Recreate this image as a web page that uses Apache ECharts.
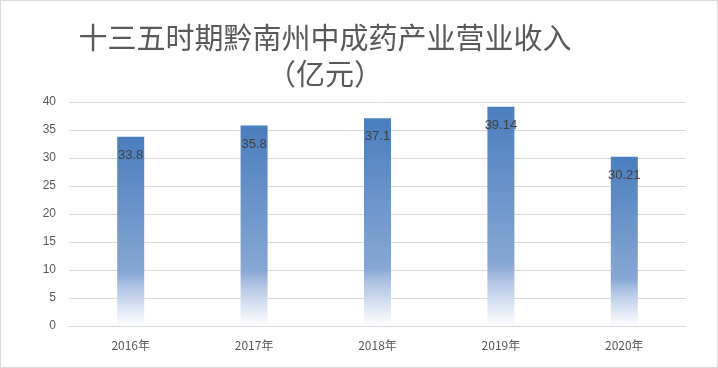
<!DOCTYPE html>
<html><head><meta charset="utf-8">
<script src="https://cdn.jsdelivr.net/npm/echarts@6/dist/echarts.min.js"></script>
<style>html,body{margin:0;padding:0;background:#fff}#c{width:718px;height:368px;box-sizing:border-box;border:1px solid #d9d9d9}</style>
</head><body><div id="c"></div>
<script>
const categories = ['2016年','2017年','2018年','2019年','2020年'];
const revenue = [33.8, 35.8, 37.1, 39.14, 30.21];
const labels = ['33.8','35.8','37.1','39.14','30.21'];
const yTicks = [0,5,10,15,20,25,30,35,40];
const chart = echarts.init(document.getElementById('c'), null, {renderer:'canvas'});
chart.setOption({
  animation:false,
  title:{text:'十三五时期黔南州中成药产业营业收入\n（亿元）', left:319, top:14, textAlign:'center',
    textStyle:{fontFamily:'Noto Sans CJK SC', fontSize:29, fontWeight:'normal', color:'#595959', lineHeight:36}},
  grid:{left:68, right:31, top:101, bottom:41},
  xAxis:{type:'category', data:categories,
    axisLine:{lineStyle:{color:'#d9d9d9'}}, axisTick:{show:false},
    axisLabel:{color:'#595959', fontSize:12, margin:13, fontFamily:'Noto Sans CJK SC'}},
  yAxis:{type:'value', min:yTicks[0], max:yTicks[yTicks.length-1], interval:5,
    axisLabel:{color:'#595959', fontSize:12, margin:13, fontFamily:'Liberation Sans'},
    splitLine:{lineStyle:{color:'#d9d9d9'}}, axisLine:{show:false}, axisTick:{show:false}},
  series:[{type:'bar', data:revenue, barWidth:27,
    itemStyle:{color:new echarts.graphic.LinearGradient(0,0,0,1,[
      {offset:0,color:'#4a7ebe'},{offset:0.72,color:'#87a7d4'},{offset:0.8,color:'#b3c6e5'},{offset:1,color:'#ffffff'}])},
    label:{show:true, position:'insideTop', distance:12, color:'#404040', fontSize:13, fontFamily:'Liberation Sans',
      formatter:(p)=>labels[p.dataIndex]}
  }]
});
</script></body></html>
